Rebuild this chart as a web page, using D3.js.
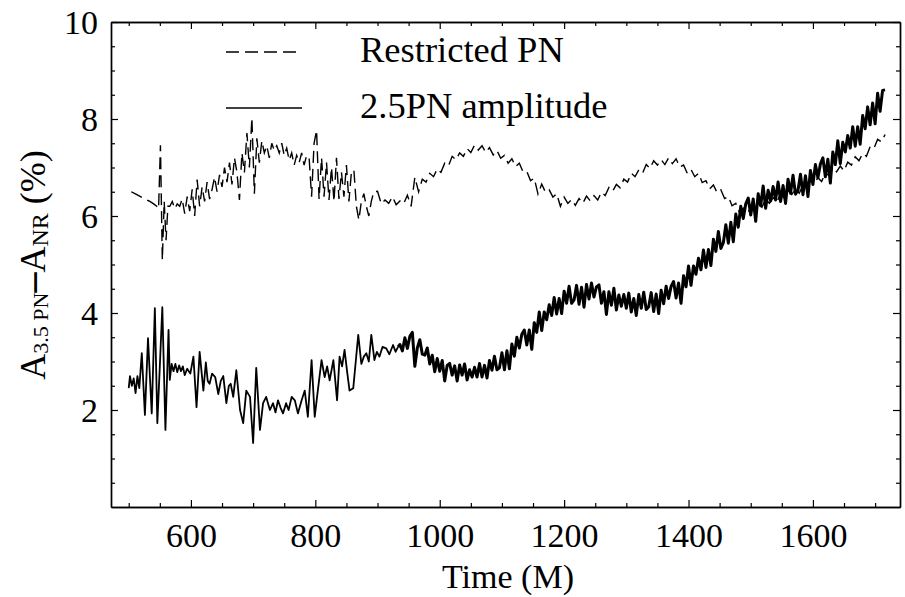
<!DOCTYPE html>
<html><head><meta charset="utf-8">
<script src="https://cdn.jsdelivr.net/npm/d3@7"></script>
<style>
body{margin:0;background:#fff;}
svg{display:block;}
text{font-family:"Liberation Serif","Times New Roman",serif;fill:#000;}
</style>
</head><body>
<svg id="c" width="905" height="597"></svg>
<script>
// ---------- data ----------
const xTicks = [600, 800, 1000, 1200, 1400, 1600];
const yTicks = [2, 4, 6, 8, 10];
const legendLabels = ["Restricted PN", "2.5PN amplitude"];
const xTitle = "Time (M)";

// 2.5PN amplitude (solid)
const solidTime = [
500,502,505,508,511,514,517,521,526,531,
537,542,546,550,554,559,564,566,569,572,
575,578,581,584,587,590,594,599,604,609,
614,620,624,627,630,634,639,644,648,652,
657,661,664,668,673,679,684,689,695,700,
705,711,716,721,727,732,736,740,744,748,
753,757,762,767,772,778,783,788,794,799,
804,810,815,819,823,829,835,839,843,847,
851,855,861,865,869,874,878,882,886,890,
895,899,903,908,914,919,925,929,933,
936,940,944,948,952,956,960,964,968,972,
976,980,984,988,992,996,1000,1004,1008,1012,
1016,1020,1024,1028,1032,1036,1040,1044,1048,1052,
1056,1060,1064,1068,1072,1076,1080,1084,1088,1092,
1096,1100,1104,1108,1112,1116,1120,1124,1128,1132,
1136,1140,1144,1148,1152,1156,1160,1164,1168,1172,
1176,1180,1184,1188,1192,1196,1200,1204,1208,1212,
1216,1220,1224,1228,1232,1236,1240,1244,1248,1252,
1256,1260,1264,1268,1272,1276,1280,1284,1288,1292,
1296,1300,1304,1308,1312,1316,1320,1324,1328,1332,
1336,1340,1344,1348,1352,1356,1360,1364,1368,1372,
1376,1380,1384,1388,1392,1396,1400,1404,1408,1412,
1416,1420,1424,1428,1432,1436,1440,1444,1448,1452,
1456,1460,1464,1468,1472,1476,1480,1484,1488,1492,
1496,1500,1504,1508,1512,1516,1520,1524,1528,1532,
1536,1540,1544,1548,1552,1556,1560,1564,1568,1572,
1576,1580,1584,1588,1592,1596,1600,1604,1608,1612,
1616,1620,1624,1628,1632,1636,1640,1644,1648,1652,
1656,1660,1664,1668,1672,1676,1680,1684,1688,1692,
1696,1700,1704,1708,1712,1716
];
const solidValue = [
2.45,2.7,2.5,2.65,2.35,2.7,2.45,3.17,1.9,3.48,
1.93,4.1,1.73,2.9,4.12,1.59,3.65,2.62,2.95,2.8,
2.95,2.78,2.92,2.8,2.9,2.72,2.85,2.75,3.1,2.06,
3.2,2.4,2.98,2.6,2.54,2.75,2.68,2.33,2.6,2.7,
2.14,2.5,2.54,2.27,2.82,2.0,1.73,2.4,2.27,1.32,
2.87,1.59,2.14,2.27,2.0,2.14,1.95,2.2,2.05,1.93,
2.14,2.0,2.27,2.2,1.93,2.2,2.4,1.86,3.03,1.86,
2.4,3.03,2.68,2.9,2.61,3.03,2.2,3.1,2.9,3.24,
2.8,2.4,2.45,3.0,3.55,2.95,3.1,3.17,3.0,3.55,
3.03,3.2,3.1,3.3,3.27,3.15,3.34,3.2,3.3,
3.35,3.22,3.49,3.27,3.52,3.6,2.9,3.28,3.45,3.15,
3.13,3.28,2.95,3.13,2.79,3.06,2.8,3.02,2.6,2.92,
2.96,2.72,2.91,2.6,2.93,2.72,2.95,2.62,2.83,2.68,
2.88,2.68,2.96,2.68,2.92,2.66,3.02,2.82,3.11,2.83,
2.87,3.18,2.83,3.22,2.85,3.36,3.11,3.5,3.28,3.56,
3.65,3.34,3.65,3.25,3.8,3.6,4.02,3.64,4.02,3.86,
4.17,3.95,4.32,3.98,4.3,3.99,4.45,4.2,4.55,4.2,
4.27,4.57,4.18,4.53,4.12,4.59,4.29,4.62,4.33,4.54,
4.58,4.2,4.44,3.97,4.44,4.16,4.51,4.06,4.37,4.14,
4.38,4.1,4.41,4.02,4.3,3.95,4.38,4.1,4.43,4.07,
4.13,4.42,4.03,4.39,3.99,4.47,4.19,4.55,4.3,4.55,
4.65,4.31,4.62,4.2,4.77,4.54,4.97,4.57,4.97,4.8,
5.13,4.89,5.3,4.94,5.31,4.98,5.52,5.27,5.68,5.33,
5.45,5.82,5.44,5.87,5.47,6.04,5.77,6.2,5.95,6.25,
6.37,6.02,6.35,5.89,6.46,6.21,6.62,6.16,6.53,6.31,
6.61,6.33,6.7,6.3,6.63,6.26,6.76,6.47,6.84,6.45,
6.53,6.86,6.44,6.83,6.4,6.94,6.65,7.06,6.79,7.07,
7.2,6.81,7.17,6.68,7.32,7.06,7.55,7.08,7.52,7.32,
7.66,7.4,7.84,7.44,7.84,7.48,8.07,7.8,8.25,7.88,
8.33,7.9,8.53,8.16,8.59,8.6
];

// Restricted PN (dashed)
const dashTime = [
504,510,516,522,528,534,540,545,548,551,554,557,560,563,
566,570,574,578,582,586,590,594,598,602,
606,610,614,618,622,626,630,634,638,642,
646,650,654,658,662,666,670,674,678,682,
686,690,694,698,702,706,710,714,718,722,
726,730,734,738,742,746,750,754,758,762,
766,770,774,778,782,786,790,794,798,802,
806,810,814,818,822,826,830,834,838,842,
846,850,854,858,862,866,870,874,878,882,
886,890,894,
900,906,912,918,924,930,936,942,948,954,
960,966,972,978,984,990,996,1002,1008,1014,
1020,1026,1032,1038,1044,1050,1056,1062,1068,1074,
1080,1086,1092,1098,1104,1110,1116,1122,1128,1134,
1140,1146,1152,1158,1164,1170,1176,1182,1188,1194,
1200,1206,1212,1218,1224,1230,1236,1242,1248,1254,
1260,1266,1272,1278,1284,1290,1296,1302,1308,1314,
1320,1326,1332,1338,1344,1350,1356,1362,1368,1374,
1380,1386,1392,1398,1404,1410,1416,1422,1428,1434,
1440,1446,1452,1458,1464,1470,1476,1482,1488,1494,
1500,1506,1512,1518,1524,1530,1536,1542,1548,1554,
1560,1566,1572,1578,1584,1590,1596,1602,1608,1614,
1620,1626,1632,1638,1644,1650,1656,1662,1668,1674,
1680,1686,1692,1698,1704,1710,1716
];
const dashValue = [
6.5,6.46,6.42,6.38,6.34,6.3,6.25,6.2,6.15,7.46,5.09,6.3,5.5,6.2,
6.2,6.3,6.15,6.25,6.2,6.35,6.05,6.4,6.1,6.55,
6.0,6.75,6.2,6.6,6.3,6.7,6.35,6.55,6.8,6.5,
6.85,6.6,7.0,6.7,7.1,6.65,7.2,6.9,6.33,7.3,
6.9,7.71,7.0,8.02,6.46,7.6,7.1,7.55,7.3,7.45,
7.2,7.5,7.35,7.45,7.3,7.5,7.25,7.4,7.15,7.3,
7.05,7.25,7.1,7.3,7.05,7.25,7.2,6.4,7.5,7.77,
6.35,7.2,6.4,7.1,6.33,7.0,6.3,7.2,6.35,6.9,
6.4,7.05,6.3,6.9,6.95,6.2,5.92,6.3,6.46,6.2,
6.0,6.3,6.5,
6.51,6.25,6.33,6.26,6.4,6.23,6.31,6.25,6.43,6.2,
6.8,6.5,6.76,6.7,6.88,6.81,6.97,6.9,7.09,7.03,
7.23,7.16,7.3,7.23,7.39,7.31,7.46,7.36,7.45,7.31,
7.41,7.26,7.35,7.19,7.25,7.09,7.18,7.02,7.09,6.91,
6.92,6.73,6.78,6.45,6.66,6.49,6.54,6.39,6.46,6.2,
6.39,6.26,6.34,6.22,6.36,6.26,6.41,6.31,6.42,6.33,
6.49,6.42,6.59,6.51,6.65,6.58,6.76,6.7,6.88,6.81,
6.95,6.88,7.06,6.98,7.14,7.05,7.16,7.06,7.2,7.08,
7.18,7.01,7.05,6.88,6.96,6.81,6.88,6.69,6.73,6.56,
6.64,6.48,6.54,6.36,6.4,6.21,6.26,6.07,6.16,6.04,
6.17,6.09,6.26,6.18,6.35,6.26,6.38,6.29,6.45,6.37,
6.53,6.44,6.56,6.47,6.63,6.55,6.73,6.66,6.79,6.71,
6.89,6.83,7.0,6.91,7.03,6.93,7.11,7.05,7.22,7.14,
7.29,7.23,7.43,7.39,7.58,7.53,7.68
];

// ---------- layout ----------
const L = 111, R = 900, T = 22, B = 507;
const svg = d3.select("#c");
const x = d3.scaleLinear().domain([471.5, 1740]).range([L, R]);
const y = d3.scaleLinear().domain([0, 10]).range([B, T]);

const minorX = d3.range(500, 1750, 50).filter(v => !xTicks.includes(v));
const minorY = d3.range(0.5, 10, 0.5).filter(v => !yTicks.includes(v));

function styleAxis(g){
  g.selectAll("path.domain").attr("stroke","#000").attr("stroke-width",1.4);
  g.selectAll(".tick line").attr("stroke","#000").attr("stroke-width",1.2);
}
// bottom
const gb = svg.append("g").attr("transform",`translate(0,${B})`)
  .call(d3.axisBottom(x).tickValues(xTicks).tickSize(-7).tickSizeOuter(0).tickFormat(d3.format("d")));
styleAxis(gb);
gb.selectAll("text").attr("y",40).attr("dy",0).attr("font-size",34)
  .style("font-family","'Liberation Serif','Times New Roman',serif");
const gbm = svg.append("g").attr("transform",`translate(0,${B})`)
  .call(d3.axisBottom(x).tickValues(minorX).tickSize(-4).tickSizeOuter(0).tickFormat(""));
styleAxis(gbm);
// top
const gt = svg.append("g").attr("transform",`translate(0,${T})`)
  .call(d3.axisTop(x).tickValues(xTicks).tickSize(-7).tickSizeOuter(0).tickFormat(""));
styleAxis(gt);
const gtm = svg.append("g").attr("transform",`translate(0,${T})`)
  .call(d3.axisTop(x).tickValues(minorX).tickSize(-4).tickSizeOuter(0).tickFormat(""));
styleAxis(gtm);
// left
const gl = svg.append("g").attr("transform",`translate(${L},0)`)
  .call(d3.axisLeft(y).tickValues(yTicks).tickSize(-7).tickSizeOuter(0).tickFormat(d3.format("d")));
styleAxis(gl);
gl.selectAll("text").attr("x",-13).attr("dy","0.33em").attr("font-size",34)
  .style("font-family","'Liberation Serif','Times New Roman',serif");
const glm = svg.append("g").attr("transform",`translate(${L},0)`)
  .call(d3.axisLeft(y).tickValues(minorY).tickSize(-4).tickSizeOuter(0).tickFormat(""));
styleAxis(glm);
// right
const gr = svg.append("g").attr("transform",`translate(${R},0)`)
  .call(d3.axisRight(y).tickValues(yTicks).tickSize(-7).tickSizeOuter(0).tickFormat(""));
styleAxis(gr);
const grm = svg.append("g").attr("transform",`translate(${R},0)`)
  .call(d3.axisRight(y).tickValues(minorY).tickSize(-4).tickSizeOuter(0).tickFormat(""));
styleAxis(grm);

// ---------- lines ----------
svg.append("defs").append("clipPath").attr("id","clip")
  .append("rect").attr("x",L).attr("y",T).attr("width",R-L).attr("height",B-T);

const line = d3.line().x(d => x(d[0])).y(d => y(d[1]));
const dashData = dashTime.map((t,i) => [t, dashValue[i]]);
const solidData = solidTime.map((t,i) => [t, solidValue[i]]);
const solidEarly = solidData.filter(d => d[0] <= 933);
const solidDense = solidData.filter(d => d[0] >= 933);

svg.append("path").attr("clip-path","url(#clip)")
  .attr("d", line(dashData)).attr("fill","none").attr("stroke","#000")
  .attr("stroke-width",1.4).attr("stroke-dasharray","12,6");
svg.append("path").attr("clip-path","url(#clip)")
  .attr("d", line(solidEarly)).attr("fill","none").attr("stroke","#000")
  .attr("stroke-width",1.8).attr("stroke-linejoin","round");
svg.append("path").attr("clip-path","url(#clip)")
  .attr("d", line(solidDense)).attr("fill","none").attr("stroke","#000")
  .attr("stroke-width",3).attr("stroke-linejoin","round");

// ---------- legend ----------
const legY = [52, 108];
const leg = svg.append("g");
leg.append("line").attr("x1",226).attr("x2",302).attr("y1",legY[0]).attr("y2",legY[0])
  .attr("stroke","#000").attr("stroke-width",1.3).attr("stroke-dasharray","13,6");
leg.append("line").attr("x1",226).attr("x2",302).attr("y1",legY[1]).attr("y2",legY[1])
  .attr("stroke","#000").attr("stroke-width",1.5);
legendLabels.forEach((lab,i) => {
  leg.append("text").attr("x",360).attr("y",legY[i]+10).attr("font-size",36.5).text(lab);
});

// ---------- titles ----------
svg.append("text").attr("x",508).attr("y",588).attr("text-anchor","middle")
  .attr("font-size",34).text(xTitle);

const yt = svg.append("text").attr("transform","translate(45,265) rotate(-90)")
  .attr("text-anchor","middle").attr("font-size",36);
yt.append("tspan").text("A");
yt.append("tspan").attr("font-size",22).attr("dy",3).text("3.5 PN");
yt.append("tspan").attr("dy",-3).attr("font-weight","bold").attr("font-size",40).text("\u2013");
yt.append("tspan").text("A");
yt.append("tspan").attr("font-size",24).attr("dy",3).text("NR");
yt.append("tspan").attr("dy",-3).text(" (%)");
</script>
</body></html>
